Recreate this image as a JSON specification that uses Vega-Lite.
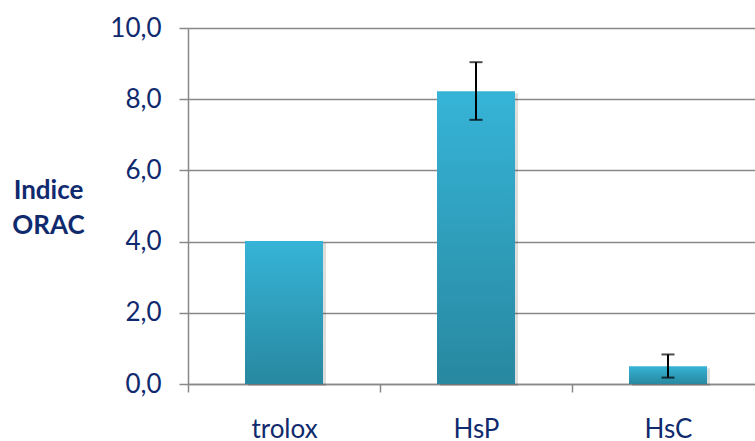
{
  "$schema": "https://vega.github.io/schema/vega-lite/v6.json",
  "width": 567,
  "height": 356,
  "autosize": {"type": "none"},
  "padding": {"left": 188, "top": 28, "right": 0, "bottom": 57},
  "background": "white",
  "config": {"view": {"stroke": null}, "font": "Lato"},
  "data": {
    "values": [
      {"sample": "trolox", "orac": 4.02, "lo": null, "hi": null},
      {"sample": "HsP", "orac": 8.22, "lo": 7.42, "hi": 9.04},
      {"sample": "HsC", "orac": 0.5, "lo": 0.18, "hi": 0.83}
    ]
  },
  "encoding": {
    "x": {
      "field": "sample",
      "type": "nominal",
      "sort": null,
      "scale": {"range": [0, 576], "paddingInner": 0, "paddingOuter": 0},
      "axis": {
        "title": null,
        "tickBand": "extent",
        "domainColor": "#888888",
        "domainWidth": 1.5,
        "tickColor": "#888888",
        "tickWidth": 1.5,
        "tickSize": 8,
        "labelAngle": 0,
        "labelFontSize": 26,
        "labelColor": "#102A6E",
        "labelBaseline": "alphabetic",
        "labelPadding": 45,
        "grid": false
      }
    }
  },
  "layer": [
    {
      "mark": {"type": "bar", "size": 78, "xOffset": 3, "yOffset": 2, "color": "#000000", "opacity": 0.13},
      "encoding": {
        "y": {
          "field": "orac",
          "type": "quantitative",
          "scale": {"domain": [0, 10], "nice": false},
          "axis": {
            "values": [0, 2, 4, 6, 8, 10],
            "labelExpr": "replace(format(datum.value, '.1f'), '.', ',')",
            "domainColor": "#888888",
            "domainWidth": 1.5,
            "gridColor": "#888888",
            "gridWidth": 1.5,
            "tickColor": "#888888",
            "tickWidth": 1.5,
            "tickSize": 9,
            "labelFontSize": 26,
            "labelColor": "#102A6E",
            "labelPadding": 18,
            "title": ["Indice", "ORAC"],
            "titleAngle": 0,
            "titleAlign": "center",
            "titleBaseline": "alphabetic",
            "titleX": -140,
            "titleY": 170,
            "titleFont": "Lato",
            "titleFontSize": 26,
            "titleFontWeight": "bold",
            "titleColor": "#102A6E",
            "titleLineHeight": 35
          }
        }
      }
    },
    {
      "mark": {
        "type": "bar",
        "size": 78,
        "color": {
          "x1": 0, "y1": 0, "x2": 0, "y2": 1,
          "gradient": "linear",
          "stops": [
            {"offset": 0, "color": "#36B4D7"},
            {"offset": 1, "color": "#2888A0"}
          ]
        }
      },
      "encoding": {
        "y": {"field": "orac", "type": "quantitative"}
      }
    },
    {
      "mark": {"type": "rule", "color": "#000000", "strokeWidth": 2},
      "encoding": {
        "y": {"field": "lo", "type": "quantitative"},
        "y2": {"field": "hi"}
      }
    },
    {
      "mark": {"type": "tick", "color": "#000000", "size": 13, "thickness": 2},
      "encoding": {
        "y": {"field": "lo", "type": "quantitative"}
      }
    },
    {
      "mark": {"type": "tick", "color": "#000000", "size": 13, "thickness": 2},
      "encoding": {
        "y": {"field": "hi", "type": "quantitative"}
      }
    }
  ]
}
